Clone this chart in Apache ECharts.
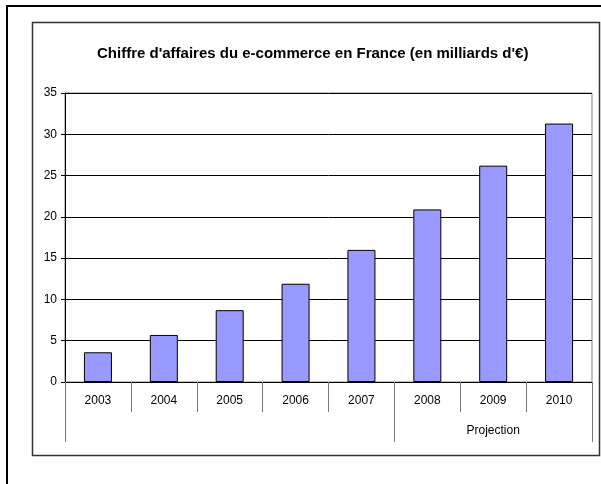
<!DOCTYPE html>
<html>
<head>
<meta charset="utf-8">
<script src="https://cdn.jsdelivr.net/npm/echarts@6/dist/echarts.min.js"></script>
<style>
html,body{margin:0;padding:0;background:#fff;}
#c{width:601px;height:484px;}
</style>
</head>
<body>
<div id="c"></div>
<script>
const titleText = "Chiffre d'affaires du e-commerce en France (en milliards d'€)";
const categories = ['2003', '2004', '2005', '2006', '2007', '2008', '2009', '2010'];
const values = [3.6, 5.7, 8.7, 11.9, 16.0, 20.9, 26.2, 31.3];
const groupLabels = ['', '', '', '', '', '', 'Projection', ''];
const groupStarts = [0, 5];
const yMin = 0, yMax = 35, yStep = 5;

const chart = echarts.init(document.getElementById('c'), null, {renderer: 'canvas'});
const font = 'Arial, "Liberation Sans", sans-serif';
chart.setOption({
  animation: false,
  backgroundColor: '#fff',
  title: {
    text: titleText,
    left: 92,
    top: 41,
    textStyle: {fontFamily: font, fontSize: 15, fontWeight: 'bold', color: '#000'}
  },
  graphic: [
    {type: 'rect', shape: {x: 7, y: 6, width: 620, height: 500}, style: {fill: null, stroke: '#000', lineWidth: 2}, silent: true, z: -10},
    {type: 'rect', shape: {x: 32.5, y: 22.5, width: 567, height: 433}, style: {fill: null, stroke: '#333', lineWidth: 1.5}, silent: true, z: -10}
  ],
  grid: {left: 65, right: 9, top: 93, bottom: 102, show: true, borderColor: '#808080', borderWidth: 1, backgroundColor: 'transparent'},
  xAxis: [
    {
      type: 'category', data: categories, position: 'bottom',
      axisLine: {show: true, lineStyle: {color: '#000', width: 1}},
      axisTick: {show: true, interval: 0, length: 30, lineStyle: {color: '#777'}},
      axisLabel: {interval: 0, margin: 13, fontFamily: font, fontSize: 12, color: '#000'},
      splitLine: {show: false}
    },
    {
      type: 'category', data: categories, position: 'bottom', offset: 30,
      axisLine: {show: false},
      axisTick: {show: true, length: 30, interval: function (i) { return groupStarts.indexOf(i) >= 0; }, lineStyle: {color: '#777'}},
      axisLabel: {interval: 0, margin: 13, fontFamily: font, fontSize: 12, color: '#000',
        formatter: function (v, i) { return groupLabels[i]; }},
      splitLine: {show: false}
    }
  ],
  yAxis: {
    type: 'value', min: yMin, max: yMax, interval: yStep,
    axisLine: {show: true, lineStyle: {color: '#000', width: 1}},
    axisTick: {show: true, length: 4, lineStyle: {color: '#000'}},
    axisLabel: {margin: 8, fontFamily: font, fontSize: 12, color: '#000'},
    splitLine: {show: true, lineStyle: {color: '#000', width: 1}}
  },
  series: [{
    type: 'bar', xAxisIndex: 0, data: values, barWidth: 28,
    itemStyle: {color: '#9999FF', borderColor: '#000', borderWidth: 1}
  }]
});
</script>
</body>
</html>
